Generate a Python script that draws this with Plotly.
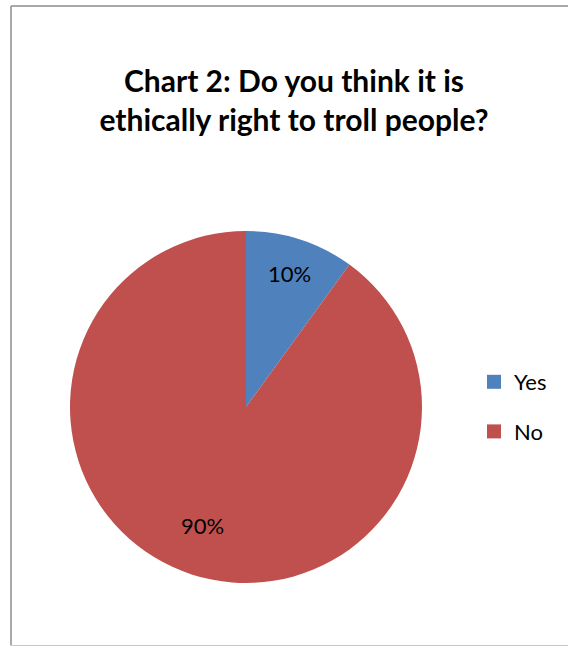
import math
import plotly.graph_objects as go

labels = ["Yes", "No"]
values = [10, 90]
colors = ["#4F81BD", "#C0504D"]
title_text = "Chart 2: Do you think it is<br>ethically right to troll people?"

W, H = 568, 646
FONT = "Lato, Calibri, 'Open Sans', sans-serif"

# pie geometry (paper fractions)
cx, cy, R = 246, 407, 176
dom_x = [(cx - R) / W, (cx + R) / W]
dom_y = [1 - (cy + R) / H, 1 - (cy - R) / H]

fig = go.Figure()
fig.add_trace(go.Pie(
    labels=labels, values=values, sort=False, direction="clockwise", rotation=0,
    marker=dict(colors=colors, line=dict(color="white", width=0)),
    textinfo="none", showlegend=False, hoverinfo="label+percent",
    domain=dict(x=dom_x, y=dom_y),
))

# percentage labels placed from the data (mid-angle of each slice)
total = sum(values)
cum = 0
for v in values:
    mid = (cum + v / 2) / total * 2 * math.pi
    cum += v
    r = 0.80 * R
    px = cx + r * math.sin(mid)
    py = cy - r * math.cos(mid)
    fig.add_annotation(x=px / W, y=1 - py / H, xref="paper", yref="paper",
                       text=f"{round(v / total * 100)}%", showarrow=False,
                       font=dict(family=FONT, size=22, color="#000"))

# legend entries
for i, (lab, col) in enumerate(zip(labels, colors)):
    fig.add_trace(go.Scatter(
        x=[None], y=[None], mode="markers", name=lab, legendgroup=lab,
        marker=dict(symbol="square", size=14, color=col),
    ))

grey = "#8c8c8c"
fig.update_layout(
    width=W, height=H,
    margin=dict(l=0, r=0, t=0, b=0),
    paper_bgcolor="white", plot_bgcolor="white",
    title=dict(text=title_text, x=294 / W, xanchor="center", y=1 - 92 / H, yanchor="middle",
               font=dict(family=FONT, size=30, color="#000", weight="bold")),
    xaxis=dict(visible=False), yaxis=dict(visible=False),
    legend=dict(x=474 / W, y=1 - 361 / H, xanchor="left", yanchor="top",
                font=dict(family=FONT, size=22, color="#000"),
                tracegroupgap=18, itemwidth=30, bgcolor="rgba(0,0,0,0)"),
    shapes=[
        dict(type="line", xref="paper", yref="paper", x0=11 / W, x1=11 / W,
             y0=1 - 645.5 / H, y1=1 - 6 / H, line=dict(color=grey, width=1.5)),
        dict(type="line", xref="paper", yref="paper", x0=11 / W, x1=1,
             y0=1 - 6 / H, y1=1 - 6 / H, line=dict(color=grey, width=1.5)),
        dict(type="line", xref="paper", yref="paper", x0=11 / W, x1=1,
             y0=1 - 645.5 / H, y1=1 - 645.5 / H, line=dict(color="#c8c8c8", width=1)),
    ],
)

fig.write_html("out.html", config={"displayModeBar": False},
               post_script="document.body.style.margin='0px';document.body.style.overflow='hidden';")
